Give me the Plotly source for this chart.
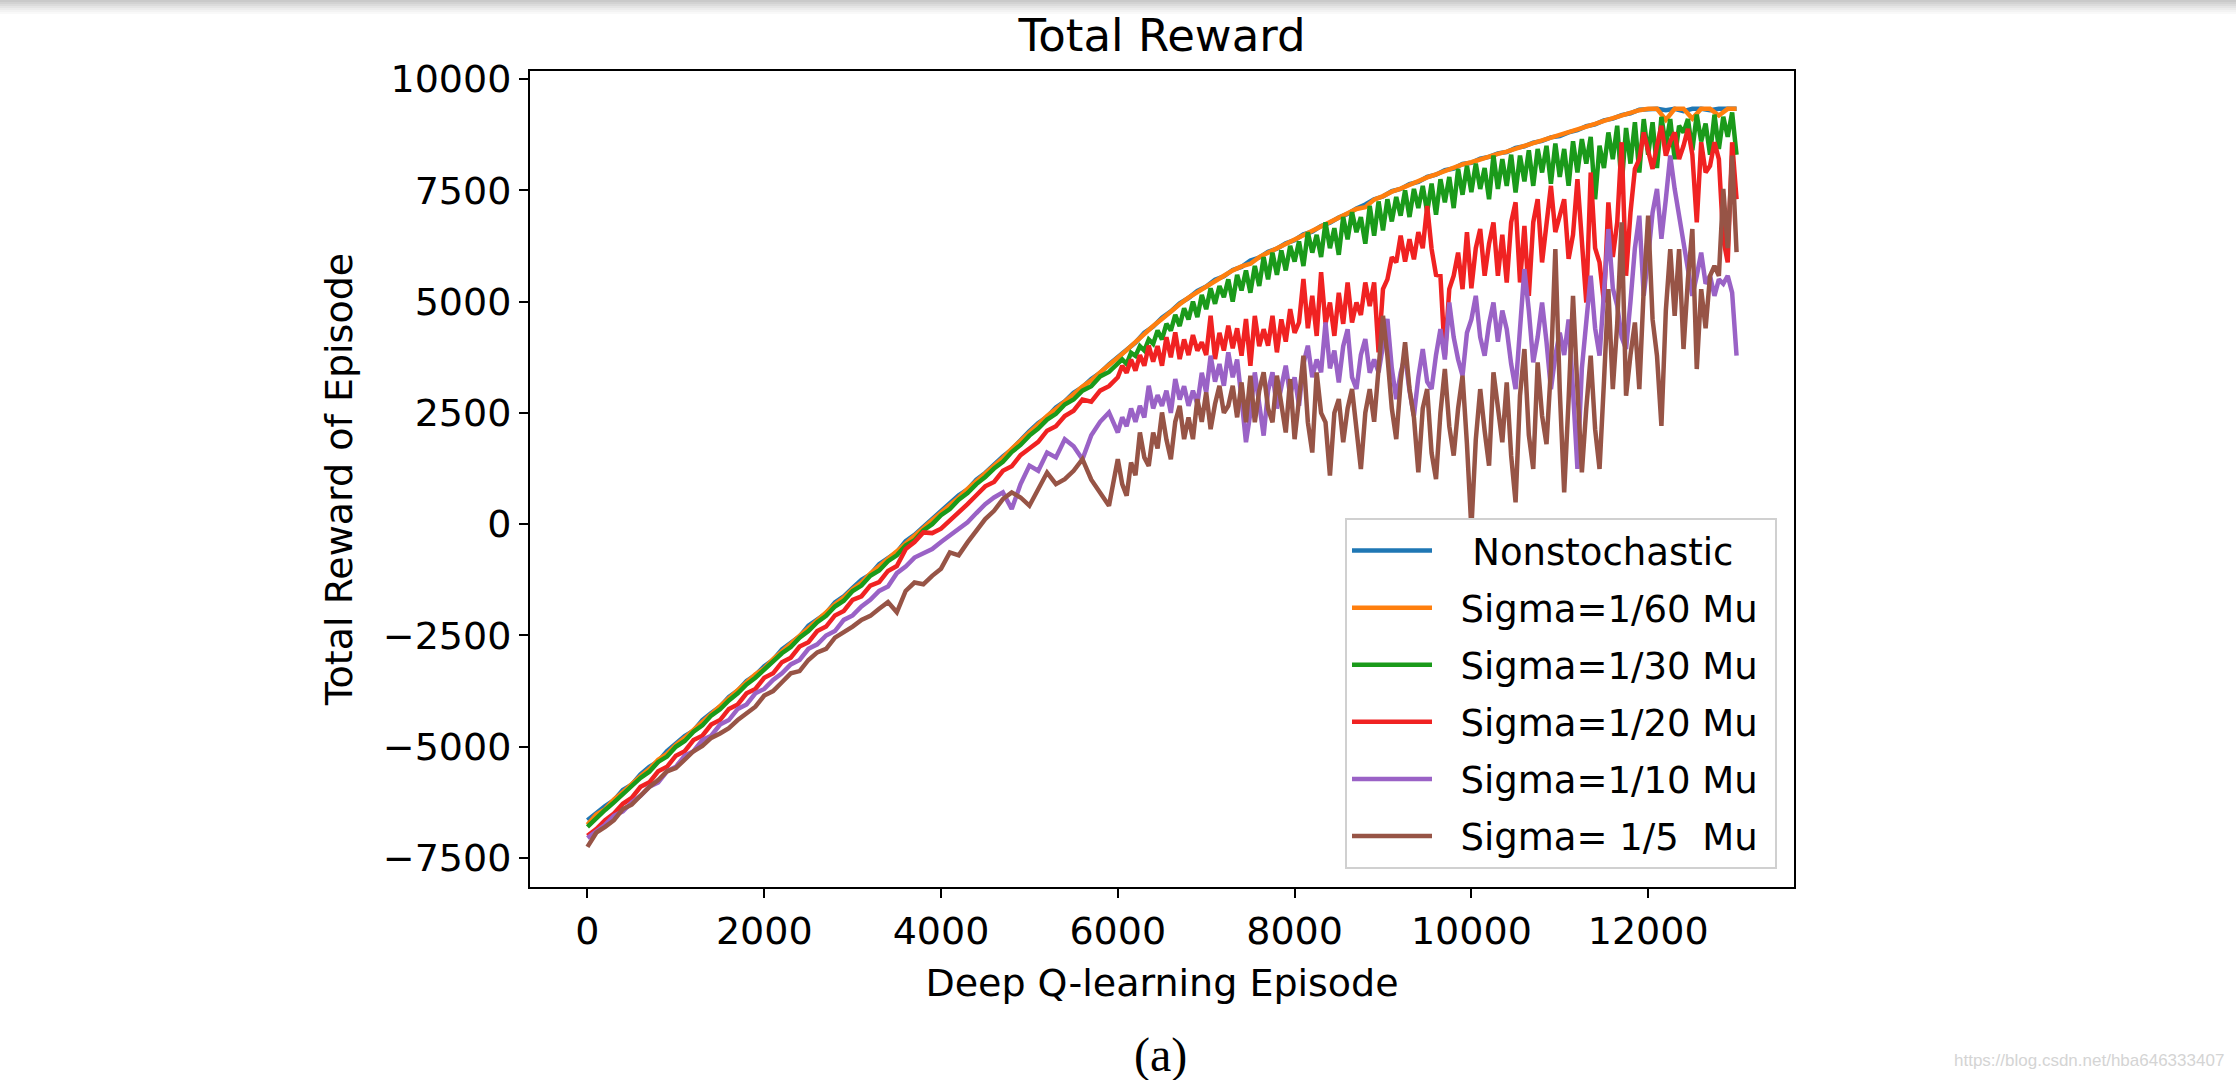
import plotly.graph_objects as go

# ---------------- data ----------------
# smooth curves: one reading every 100 episodes
EPISODES = list(range(0, 13001, 100))
# noisy curves: every 100 episodes up to 5900, then every 50 episodes up to 13000
EPISODES_EARLY = list(range(0, 6000, 100))
EPISODES_LATE = list(range(6000, 13001, 50))

SERIES_NAMES = ["\u00a0\u00a0\u00a0Nonstochastic\u00a0", "\u00a0\u00a0Sigma=1/60 Mu\u00a0",
                "\u00a0\u00a0Sigma=1/30 Mu\u00a0", "\u00a0\u00a0Sigma=1/20 Mu\u00a0",
                "\u00a0\u00a0Sigma=1/10 Mu\u00a0", "\u00a0\u00a0Sigma=\u00a01/5\u00a0\u00a0Mu\u00a0"]

nonstochastic = [
    -6650, -6480, -6330, -6200, -5970, -5850, -5620, -5450, -5330, -5100,
    -4930, -4760, -4640, -4400, -4240, -4100, -3880, -3740, -3520, -3390,
    -3190, -3050, -2810, -2670, -2520, -2280, -2140, -2000, -1760, -1620,
    -1430, -1250, -1130, -900, -760, -630, -380, -240, -60, 110,
    300, 460, 650, 780, 1000, 1150, 1340, 1520, 1680, 1900,
    2090, 2270, 2410, 2620, 2760, 2950, 3080, 3260, 3400, 3590,
    3760, 3920, 4080, 4300, 4440, 4640, 4780, 4960, 5080, 5240,
    5340, 5490, 5570, 5710, 5780, 5920, 5990, 6120, 6190, 6310,
    6380, 6510, 6570, 6700, 6770, 6890, 6970, 7090, 7180, 7300,
    7360, 7480, 7530, 7640, 7690, 7800, 7850, 7950, 7990, 8090,
    8120, 8210, 8250, 8330, 8360, 8450, 8490, 8570, 8610, 8690,
    8720, 8800, 8850, 8940, 8980, 9070, 9110, 9190, 9230, 9310,
    9320, 9330, 9300, 9330, 9280, 9330, 9330, 9300, 9330, 9330,
    9330]

sigma_1_60 = [
    -6750, -6520, -6400, -6180, -6020, -5830, -5660, -5500, -5290, -5160,
    -4960, -4800, -4620, -4450, -4270, -4090, -3930, -3720, -3570, -3370,
    -3240, -3030, -2860, -2690, -2500, -2330, -2170, -1980, -1800, -1650,
    -1460, -1310, -1110, -950, -800, -610, -430, -270, -90, 90,
    250, 440, 600, 790, 960, 1140, 1310, 1490, 1690, 1880,
    2070, 2250, 2430, 2590, 2770, 2920, 3090, 3230, 3410, 3560,
    3740, 3910, 4100, 4270, 4450, 4610, 4790, 4940, 5090, 5220,
    5350, 5470, 5580, 5700, 5790, 5850, 6000, 6100, 6200, 6300,
    6390, 6500, 6580, 6690, 6780, 6880, 6990, 7080, 7120, 7290,
    7370, 7470, 7540, 7630, 7700, 7790, 7860, 7940, 8000, 8080,
    8130, 8200, 8260, 8320, 8370, 8440, 8500, 8560, 8620, 8680,
    8730, 8790, 8860, 8930, 8990, 9060, 9120, 9180, 9240, 9300,
    9330, 9330, 9080, 9330, 9330, 9110, 9330, 9330, 9180, 9330,
    9330]

sigma_1_30_early = [
    -6800, -6600, -6420, -6250, -6060, -5880, -5700, -5560, -5340, -5220,
    -5000, -4870, -4660, -4520, -4300, -4160, -3960, -3800, -3600, -3450,
    -3260, -3100, -2900, -2760, -2550, -2400, -2200, -2060, -1850, -1720,
    -1500, -1380, -1160, -1040, -830, -700, -480, -360, -140, 0,
    200, 340, 550, 700, 900, 1060, 1250, 1400, 1620, 1780,
    1990, 2150, 2350, 2480, 2690, 2800, 3000, 3100, 3320, 3420]
sigma_1_30_late = [
    3620, 3700, 3600, 3850, 3780, 4000, 3900, 4150, 4050, 4350,
    4150, 4500, 4350, 4700, 4450, 4850, 4600, 5000, 4650, 5150,
    4830, 5300, 4950, 5350, 5100, 5500, 5000, 5600, 5250, 5700,
    5200, 5800, 5350, 6000, 5500, 6100, 5600, 6150, 5700, 6250,
    5900, 6350, 5800, 6560, 6100, 6500, 6000, 6780, 6200, 6650,
    6050, 6900, 6400, 7010, 6560, 6900, 6300, 7150, 6480, 7250,
    6600, 7300, 6800, 7350, 6930, 7500, 6900, 7530, 7100, 7600,
    7010, 7650, 6950, 7750, 7230, 7800, 7100, 7980, 7400, 8050,
    7460, 8100, 7530, 8000, 7300, 8280, 7530, 8200, 7600, 8300,
    7450, 8280, 7700, 8400, 7600, 8430, 7900, 8500, 7650, 8550,
    7800, 8430, 7600, 8600, 7900, 8650, 8100, 8700, 7300, 8500,
    8000, 8800, 8200, 8950, 7600, 8900, 8100, 9030, 7900, 9100,
    8300, 9030, 8000, 9150, 8500, 9100, 8200, 8950, 8800, 9100,
    8400, 9200, 8600, 9000, 8300, 9200, 8430, 9150, 8700, 9250,
    8300]

sigma_1_20_early = [
    -7000, -6850, -6650, -6500, -6280, -6150, -5900, -5800, -5550, -5450,
    -5200, -5100, -4850, -4750, -4500, -4400, -4150, -4050, -3800, -3700,
    -3450, -3350, -3100, -3000, -2750, -2650, -2400, -2300, -2050, -1950,
    -1700, -1620, -1380, -1300, -1050, -940, -560, -400, -185, -200,
    -100, 80, 250, 450, 650, 850, 950, 1200, 1300, 1550,
    1700, 1850, 2100, 2200, 2430, 2550, 2800, 2750, 3000, 3100]
sigma_1_20_late = [
    3300, 3560, 3400, 3700, 3450, 3800, 3560, 4010, 3650, 4000,
    3560, 4200, 3750, 4310, 3710, 4150, 3800, 4250, 3900, 4085,
    3800, 4680, 3710, 4300, 3900, 4460, 3950, 4400, 3785, 4610,
    3560, 4680, 4000, 4380, 4010, 4680, 3860, 4600, 4100, 4830,
    4300, 4530, 5510, 4400, 5130, 4230, 5660, 4500, 4980, 4230,
    5200, 4500, 5430, 4530, 4980, 4700, 5430, 4900, 5430, 3860,
    5280, 5500, 6000, 5880, 6480, 5900, 6400, 5950, 6560, 6200,
    7150, 6180, 5600, 5580, 3780, 5280, 5580, 6100, 5280, 6560,
    5300, 6200, 6630, 5580, 6300, 6780, 5580, 6500, 5430, 6780,
    7230, 5430, 6700, 5130, 6780, 7300, 5880, 6800, 7600, 6560,
    6900, 7300, 5960, 6500, 7750, 6400, 4980, 7900, 6200, 5880,
    4980, 7230, 6000, 6780, 8580, 5580, 7000, 7980, 8200, 8800,
    8430, 7980, 8500, 8950, 8280, 8600, 8800, 8200, 8500, 8880,
    8300, 6780, 8580, 7900, 8050, 8580, 8200, 6400, 5880, 8580,
    7300]

sigma_1_10_early = [
    -7050, -6900, -6750, -6550, -6450, -6250, -6100, -5900, -5800, -5550,
    -5450, -5200, -5100, -4850, -4750, -4500, -4400, -4150, -4050, -3800,
    -3700, -3500, -3350, -3150, -3050, -2800, -2700, -2500, -2400, -2150,
    -2050, -1850, -1700, -1500, -1400, -1100, -950, -750, -650, -560,
    -400, -250, -100, 40, 250, 450, 600, 715, 340, 900,
    1315, 1200, 1610, 1500, 1910, 1750, 1460, 2000, 2300, 2510]
sigma_1_10_late = [
    2060, 2400, 2200, 2600, 2300, 2660, 2400, 3110, 2600, 2900,
    2660, 3000, 2500, 3260, 2800, 3100, 2660, 3000, 2700, 3400,
    2960, 3785, 3200, 3600, 3110, 3860, 3300, 3700, 2810, 1840,
    2500, 3410, 2700, 1990, 3000, 3410, 2600, 3035, 3560, 2900,
    3300, 2660, 3600, 4010, 3300, 3700, 3410, 4530, 3500, 3900,
    3185, 4000, 4380, 3300, 3035, 3800, 4160, 3400, 3700, 3410,
    4000, 4610, 3500, 2810, 3400, 3785, 3000, 2435, 3300, 3935,
    3200, 3035, 3800, 4380, 3700, 4980, 4200, 3700, 3335, 4300,
    4600, 5130, 4200, 3785, 4500, 4980, 4100, 4800, 4380, 3600,
    3035, 4500, 5730, 4800, 3635, 4200, 4980, 4100, 3035, 3785,
    4300, 3800, 4600, 3000, 1240, 3500, 4530, 5580, 4400, 3785,
    5200, 6630, 5300, 4910, 4200, 3935, 5000, 6200, 6930, 5130,
    6000, 7000, 7530, 6410, 7300, 8280, 7530, 6900, 6330, 5600,
    5130, 5580, 6100, 5400, 5580, 5130, 5500, 5400, 5580, 5200,
    3785]

sigma_1_5_early = [
    -7250, -6930, -6800, -6650, -6400, -6300, -6100, -5900, -5750, -5550,
    -5480, -5300, -5100, -4980, -4800, -4700, -4580, -4400, -4250, -4100,
    -3850, -3750, -3550, -3350, -3300, -3050, -2880, -2800, -2550, -2430,
    -2300, -2150, -2060, -1900, -1750, -1980, -1500, -1310, -1350, -1160,
    -1000, -635, -700, -410, -150, 115, 300, 565, 715, 600,
    415, 800, 1160, 900, 1010, 1200, 1460, 1000, 715, 415]
sigma_1_5_late = [
    1460, 900, 640, 1385, 1100, 2060, 1500, 1310, 2060, 1700,
    2510, 1900, 1460, 2300, 2660, 1910, 2400, 1910, 2810, 2300,
    2960, 2135, 2700, 3110, 2500, 2660, 3110, 2400, 3185, 2290,
    3335, 2290, 3000, 3410, 2600, 2290, 3335, 2700, 2060, 3260,
    1910, 2810, 3785, 2290, 1610, 3410, 2500, 2290, 1090, 2500,
    2810, 1840, 2600, 3035, 2200, 1240, 2500, 3035, 2300, 3600,
    4680, 3785, 2600, 1910, 3200, 4085, 3035, 2400, 1165, 2600,
    3035, 1600, 1010, 2500, 3485, 2200, 1540, 2600, 3335, 1800,
    -100, 1900, 3035, 2100, 1315, 3410, 2600, 1840, 3185, 1540,
    490, 2885, 3935, 2000, 1240, 3635, 2435, 1800, 3500, 6180,
    3000, 715, 2800, 5130, 3035, 1165, 2600, 3785, 2135, 1240,
    3200, 5280, 3035, 4500, 6780, 2885, 3800, 4530, 3035, 5280,
    6930, 4600, 3785, 2210, 4800, 6180, 4680, 6180, 3935, 5500,
    6630, 3485, 5280, 4400, 5580, 5800, 5580, 7530, 6200, 8280,
    6110]

SERIES_X = [EPISODES, EPISODES,
            EPISODES_EARLY + EPISODES_LATE, EPISODES_EARLY + EPISODES_LATE,
            EPISODES_EARLY + EPISODES_LATE, EPISODES_EARLY + EPISODES_LATE]
SERIES_Y = [nonstochastic, sigma_1_60,
            sigma_1_30_early + sigma_1_30_late, sigma_1_20_early + sigma_1_20_late,
            sigma_1_10_early + sigma_1_10_late, sigma_1_5_early + sigma_1_5_late]
SERIES_COLORS = ["#1f77b4", "#ff7f0e", "#1a9a1a", "#f02222", "#9a62c6", "#975446"]

X_TICKS = [0, 2000, 4000, 6000, 8000, 10000, 12000]
X_TICK_TEXT = ["0", "2000", "4000", "6000", "8000", "10000", "12000"]
Y_TICKS = [-7500, -5000, -2500, 0, 2500, 5000, 7500, 10000]
Y_TICK_TEXT = ["\u22127500", "\u22125000", "\u22122500", "0", "2500", "5000", "7500", "10000"]

TITLE = "Total Reward"
X_TITLE = "Deep Q-learning Episode"
Y_TITLE = "Total Reward of Episode"
CAPTION = "(a)"
WATERMARK = "https://blog.csdn.net/hba646333407"

# ---------------- figure ----------------
W, H = 2236, 1080
L, R, T, B = 530, 1794, 71, 887
FONT = "DejaVu Sans"

fig = go.Figure()
for i, (name, xs, ys, col) in enumerate(zip(SERIES_NAMES, SERIES_X, SERIES_Y, SERIES_COLORS)):
    fig.add_trace(go.Scatter(x=xs, y=ys, mode="lines", name=name,
                             legendgroup=f"g{i}",
                             line=dict(color=col, width=4.5)))


def py(px):
    return (B - px) / (B - T)


def pxx(px):
    return (px - L) / (R - L)


axis_common = dict(showline=True, linecolor="black", linewidth=2, mirror=True,
                   showgrid=False, zeroline=False, ticks="outside", ticklen=9,
                   tickwidth=2, tickcolor="black",
                   tickfont=dict(family=FONT, size=38, color="black"))

fig.update_layout(
    width=W, height=H,
    margin=dict(l=L, r=W - R, t=T, b=H - B, autoexpand=False),
    paper_bgcolor="white", plot_bgcolor="white",
    font=dict(family=FONT, color="black"),
    title=dict(text=TITLE, x=(L + R) / 2 / W, xanchor="center",
               y=1 - 35 / H, yanchor="middle", yref="container",
               font=dict(family=FONT, size=45, color="black")),
    xaxis=dict(range=[-650, 13650], tickvals=X_TICKS, ticktext=X_TICK_TEXT,
               title=dict(text=X_TITLE, font=dict(family=FONT, size=38, color="black"),
                          standoff=18),
               **axis_common),
    yaxis=dict(range=[-8150, 10180], tickvals=Y_TICKS, ticktext=Y_TICK_TEXT,
               title=dict(text=Y_TITLE, font=dict(family=FONT, size=38, color="black"),
                          standoff=19),
               **axis_common),
    legend=dict(x=pxx(1777), xanchor="right", y=py(869), yanchor="bottom",
                bgcolor="white", bordercolor="#d0d0d0", borderwidth=2,
                font=dict(family=FONT, size=37, color="black"),
                tracegroupgap=6, itemwidth=80),
    showlegend=True,
)

# caption and watermark
fig.add_annotation(text=CAPTION, xref="paper", yref="paper", x=pxx(1160), y=py(1055),
                   xanchor="center", yanchor="middle", showarrow=False,
                   font=dict(family="Liberation Serif", size=48, color="black"))
fig.add_annotation(text=WATERMARK, xref="paper", yref="paper", x=pxx(2226), y=py(1060),
                   xanchor="right", yanchor="middle", showarrow=False,
                   font=dict(family="Liberation Sans", size=17, color="#d4d4d4"))

# soft grey shadow band along the top edge of the picture
shade = ["#c9c9c9", "#d2d2d2", "#dbdbdb", "#e4e4e4", "#ececec", "#f3f3f3", "#f9f9f9"]
for k, c in enumerate(shade):
    fig.add_shape(type="rect", xref="paper", yref="paper", layer="below",
                  x0=pxx(0), x1=pxx(W), y0=py(2 * k + 2), y1=py(2 * k),
                  fillcolor=c, line=dict(width=0))

fig.write_html("out.html")
